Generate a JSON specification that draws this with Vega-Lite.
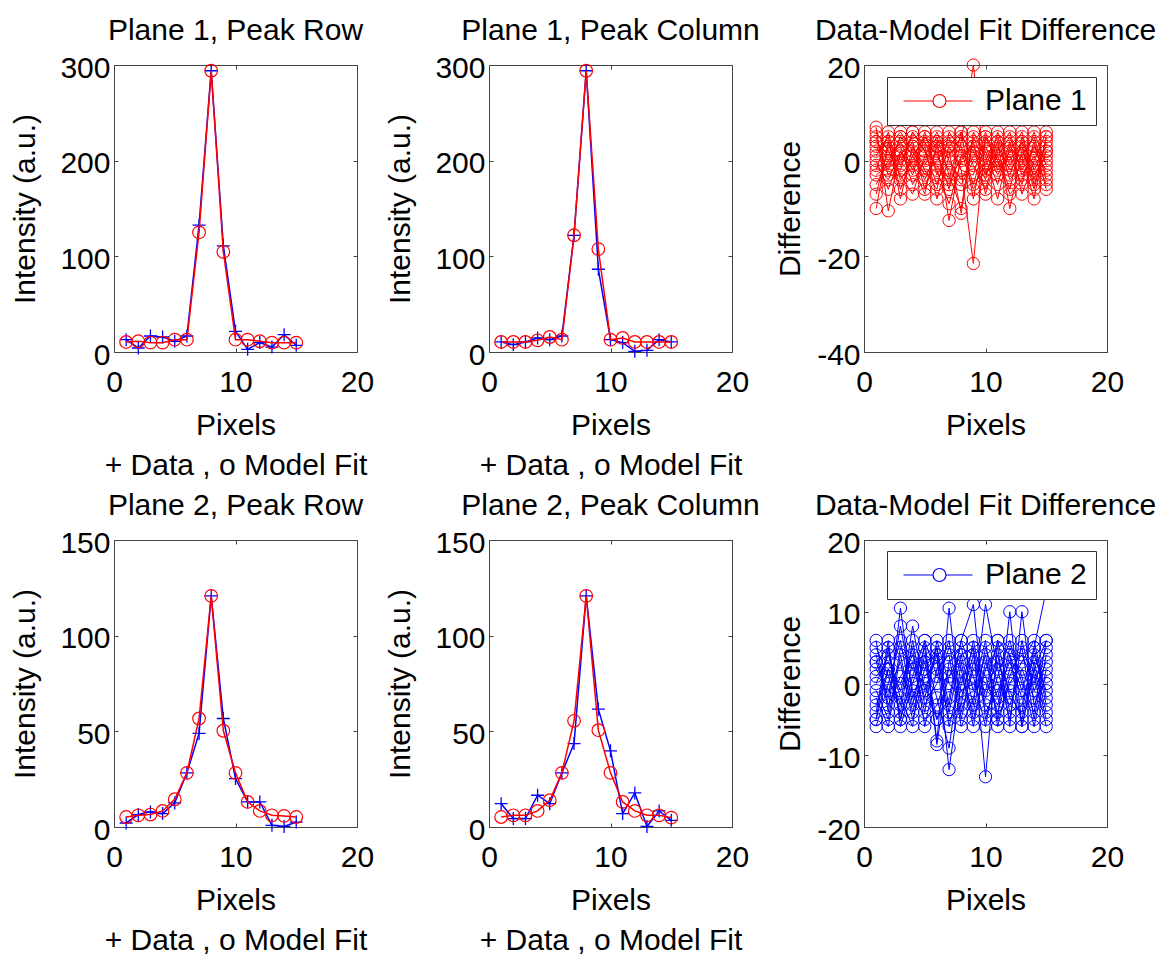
{
  "$schema": "https://vega.github.io/schema/vega-lite/v6.json",
  "padding": {"left": 9, "top": 15, "right": 0, "bottom": 0},
  "background": "white",
  "config": {
    "font": "Liberation Sans",
    "view": {"stroke": "#444", "strokeWidth": 1},
    "axis": {"labelFontSize": 30, "labelColor": "black", "titleFontSize": 30, "titleFontWeight": "normal", "titleColor": "black", "grid": false, "domain": false, "tickSize": -4, "tickColor": "#444", "labelFlush": false, "labelOverlap": false, "labelExpr": "'' + datum.value"},
    "title": {"fontSize": 30, "fontWeight": "normal", "color": "black", "baseline": "alphabetic", "offset": 7, "anchor": "middle"}
  },
  "datasets": {
    "p1": [
      {"x":1,"d":12.9,"m":10.5},{"x":2,"d":4.2,"m":11.2},{"x":3,"d":16.7,"m":9.8},{"x":4,"d":15.7,"m":9.8},{"x":5,"d":11.2,"m":12.9},{"x":6,"d":16.7,"m":12.9},{"x":7,"d":132.6,"m":125},{"x":8,"d":294,"m":294},{"x":9,"d":111,"m":104.7},{"x":10,"d":21.6,"m":12.9},{"x":11,"d":2.8,"m":12.9},{"x":12,"d":9.8,"m":11.2},{"x":13,"d":5.2,"m":9.8},{"x":14,"d":18.1,"m":9.8},{"x":15,"d":7,"m":9.8}
    ],
    "p2": [
      {"x":1,"d":10.5,"m":10.5},{"x":2,"d":7.7,"m":10.5},{"x":3,"d":10.5,"m":10.5},{"x":4,"d":14.7,"m":12.2},{"x":5,"d":12.9,"m":15.7},{"x":6,"d":16.7,"m":12.9},{"x":7,"d":122,"m":122},{"x":8,"d":294,"m":294},{"x":9,"d":86.5,"m":107.5},{"x":10,"d":12.9,"m":12.9},{"x":11,"d":9.8,"m":14.7},{"x":12,"d":0.7,"m":10.5},{"x":13,"d":1.7,"m":10.5},{"x":14,"d":12.9,"m":10.5},{"x":15,"d":10.5,"m":10.5}
    ],
    "p4": [
      {"x":1,"d":2.1,"m":5.2},{"x":2,"d":6.5,"m":6.1},{"x":3,"d":7.9,"m":6.5},{"x":4,"d":7.0,"m":8.4},{"x":5,"d":12.6,"m":14.5},{"x":6,"d":28.3,"m":28.3},{"x":7,"d":48.9,"m":56.7},{"x":8,"d":120.8,"m":120.8},{"x":9,"d":56.7,"m":50.3},{"x":10,"d":25.3,"m":28.3},{"x":11,"d":13.1,"m":13.1},{"x":12,"d":13.1,"m":8.4},{"x":13,"d":0.9,"m":6.1},{"x":14,"d":0.3,"m":5.8},{"x":15,"d":2.6,"m":5.2}
    ],
    "p5": [
      {"x":1,"d":12.2,"m":5.2},{"x":2,"d":4.4,"m":6.1},{"x":3,"d":4.4,"m":6.1},{"x":4,"d":16.6,"m":8.4},{"x":5,"d":12.2,"m":14},{"x":6,"d":28.3,"m":28.3},{"x":7,"d":43.6,"m":55.5},{"x":8,"d":120.8,"m":120.8},{"x":9,"d":61.6,"m":50.6},{"x":10,"d":39.8,"m":28.3},{"x":11,"d":7,"m":13.1},{"x":12,"d":17.8,"m":8.4},{"x":13,"d":0.3,"m":6.1},{"x":14,"d":8.4,"m":6.1},{"x":15,"d":3.5,"m":4.9}
    ],
    "d1": [
      {"s":1,"x":1,"v":3},{"s":1,"x":2,"v":-2},{"s":1,"x":3,"v":5},{"s":1,"x":4,"v":1},{"s":1,"x":5,"v":-4},{"s":1,"x":6,"v":2},{"s":1,"x":7,"v":-6},{"s":1,"x":8,"v":4},{"s":1,"x":9,"v":20},{"s":1,"x":10,"v":-3},{"s":1,"x":11,"v":1},{"s":1,"x":12,"v":5},{"s":1,"x":13,"v":-2},{"s":1,"x":14,"v":3},{"s":1,"x":15,"v":0},
      {"s":2,"x":1,"v":-10},{"s":2,"x":2,"v":4},{"s":2,"x":3,"v":-1},{"s":2,"x":4,"v":6},{"s":2,"x":5,"v":2},{"s":2,"x":6,"v":-5},{"s":2,"x":7,"v":3},{"s":2,"x":8,"v":-2},{"s":2,"x":9,"v":-21.5},{"s":2,"x":10,"v":5},{"s":2,"x":11,"v":0},{"s":2,"x":12,"v":-3},{"s":2,"x":13,"v":4},{"s":2,"x":14,"v":-1},{"s":2,"x":15,"v":2},
      {"s":3,"x":1,"v":7},{"s":3,"x":2,"v":-10.5},{"s":3,"x":3,"v":2},{"s":3,"x":4,"v":-3},{"s":3,"x":5,"v":5},{"s":3,"x":6,"v":1},{"s":3,"x":7,"v":-4},{"s":3,"x":8,"v":6},{"s":3,"x":9,"v":-1},{"s":3,"x":10,"v":-6},{"s":3,"x":11,"v":3},{"s":3,"x":12,"v":-2},{"s":3,"x":13,"v":1},{"s":3,"x":14,"v":5},{"s":3,"x":15,"v":-4},
      {"s":4,"x":1,"v":1},{"s":4,"x":2,"v":5},{"s":4,"x":3,"v":-8},{"s":4,"x":4,"v":3},{"s":4,"x":5,"v":-1},{"s":4,"x":6,"v":4},{"s":4,"x":7,"v":-12.5},{"s":4,"x":8,"v":1},{"s":4,"x":9,"v":3},{"s":4,"x":10,"v":2},{"s":4,"x":11,"v":-5},{"s":4,"x":12,"v":4},{"s":4,"x":13,"v":-7},{"s":4,"x":14,"v":0},{"s":4,"x":15,"v":6},
      {"s":5,"x":1,"v":-5},{"s":5,"x":2,"v":0},{"s":5,"x":3,"v":4},{"s":5,"x":4,"v":-2},{"s":5,"x":5,"v":6},{"s":5,"x":6,"v":-3},{"s":5,"x":7,"v":2},{"s":5,"x":8,"v":-11},{"s":5,"x":9,"v":5},{"s":5,"x":10,"v":-1},{"s":5,"x":11,"v":4},{"s":5,"x":12,"v":-10},{"s":5,"x":13,"v":2},{"s":5,"x":14,"v":-3},{"s":5,"x":15,"v":1},
      {"s":6,"x":1,"v":5},{"s":6,"x":2,"v":-3},{"s":6,"x":3,"v":0},{"s":6,"x":4,"v":4},{"s":6,"x":5,"v":-6},{"s":6,"x":6,"v":3},{"s":6,"x":7,"v":5},{"s":6,"x":8,"v":-2},{"s":6,"x":9,"v":-3},{"s":6,"x":10,"v":6},{"s":6,"x":11,"v":-2},{"s":6,"x":12,"v":1},{"s":6,"x":13,"v":-5},{"s":6,"x":14,"v":4},{"s":6,"x":15,"v":-6},
      {"s":7,"x":1,"v":-2},{"s":7,"x":2,"v":6},{"s":7,"x":3,"v":-4},{"s":7,"x":4,"v":0},{"s":7,"x":5,"v":3},{"s":7,"x":6,"v":-8},{"s":7,"x":7,"v":1},{"s":7,"x":8,"v":5},{"s":7,"x":9,"v":2},{"s":7,"x":10,"v":-4},{"s":7,"x":11,"v":6},{"s":7,"x":12,"v":-1},{"s":7,"x":13,"v":3},{"s":7,"x":14,"v":-6},{"s":7,"x":15,"v":5},
      {"s":8,"x":1,"v":4},{"s":8,"x":2,"v":1},{"s":8,"x":3,"v":3},{"s":8,"x":4,"v":-5},{"s":8,"x":5,"v":0},{"s":8,"x":6,"v":5},{"s":8,"x":7,"v":-3},{"s":8,"x":8,"v":-10},{"s":8,"x":9,"v":6},{"s":8,"x":10,"v":1},{"s":8,"x":11,"v":-8},{"s":8,"x":12,"v":3},{"s":8,"x":13,"v":0},{"s":8,"x":14,"v":2},{"s":8,"x":15,"v":-2},
      {"s":9,"x":1,"v":-7},{"s":9,"x":2,"v":3},{"s":9,"x":3,"v":6},{"s":9,"x":4,"v":2},{"s":9,"x":5,"v":-3},{"s":9,"x":6,"v":0},{"s":9,"x":7,"v":4},{"s":9,"x":8,"v":3},{"s":9,"x":9,"v":-5},{"s":9,"x":10,"v":4},{"s":9,"x":11,"v":1},{"s":9,"x":12,"v":-6},{"s":9,"x":13,"v":5},{"s":9,"x":14,"v":-2},{"s":9,"x":15,"v":3},
      {"s":10,"x":1,"v":0},{"s":10,"x":2,"v":-6},{"s":10,"x":3,"v":1},{"s":10,"x":4,"v":5},{"s":10,"x":5,"v":4},{"s":10,"x":6,"v":-2},{"s":10,"x":7,"v":-9},{"s":10,"x":8,"v":0},{"s":10,"x":9,"v":4},{"s":10,"x":10,"v":-7},{"s":10,"x":11,"v":2},{"s":10,"x":12,"v":6},{"s":10,"x":13,"v":-3},{"s":10,"x":14,"v":1},{"s":10,"x":15,"v":-5},
      {"s":11,"x":1,"v":6},{"s":11,"x":2,"v":2},{"s":11,"x":3,"v":-3},{"s":11,"x":4,"v":-7},{"s":11,"x":5,"v":1},{"s":11,"x":6,"v":6},{"s":11,"x":7,"v":0},{"s":11,"x":8,"v":-4},{"s":11,"x":9,"v":1},{"s":11,"x":10,"v":3},{"s":11,"x":11,"v":-3},{"s":11,"x":12,"v":2},{"s":11,"x":13,"v":6},{"s":11,"x":14,"v":-4},{"s":11,"x":15,"v":4},
      {"s":12,"x":1,"v":-3},{"s":12,"x":2,"v":-1},{"s":12,"x":3,"v":5},{"s":12,"x":4,"v":3},{"s":12,"x":5,"v":-2},{"s":12,"x":6,"v":-6},{"s":12,"x":7,"v":6},{"s":12,"x":8,"v":2},{"s":12,"x":9,"v":-6},{"s":12,"x":10,"v":0},{"s":12,"x":11,"v":5},{"s":12,"x":12,"v":-4},{"s":12,"x":13,"v":-1},{"s":12,"x":14,"v":6},{"s":12,"x":15,"v":-1},
      {"s":13,"x":1,"v":2},{"s":13,"x":2,"v":4},{"s":13,"x":3,"v":-6},{"s":13,"x":4,"v":1},{"s":13,"x":5,"v":5},{"s":13,"x":6,"v":3},{"s":13,"x":7,"v":-2},{"s":13,"x":8,"v":-5},{"s":13,"x":9,"v":0},{"s":13,"x":10,"v":-2},{"s":13,"x":11,"v":-1},{"s":13,"x":12,"v":0},{"s":13,"x":13,"v":4},{"s":13,"x":14,"v":-5},{"s":13,"x":15,"v":2},
      {"s":14,"x":1,"v":-1},{"s":14,"x":2,"v":-4},{"s":14,"x":3,"v":2},{"s":14,"x":4,"v":-1},{"s":14,"x":5,"v":-7},{"s":14,"x":6,"v":4},{"s":14,"x":7,"v":3},{"s":14,"x":8,"v":6},{"s":14,"x":9,"v":-8},{"s":14,"x":10,"v":5},{"s":14,"x":11,"v":0},{"s":14,"x":12,"v":-7},{"s":14,"x":13,"v":-4},{"s":14,"x":14,"v":3},{"s":14,"x":15,"v":-3},
      {"s":15,"x":1,"v":4},{"s":15,"x":2,"v":0},{"s":15,"x":3,"v":-2},{"s":15,"x":4,"v":6},{"s":15,"x":5,"v":2},{"s":15,"x":6,"v":-1},{"s":15,"x":7,"v":-5},{"s":15,"x":8,"v":1},{"s":15,"x":9,"v":3},{"s":15,"x":10,"v":-3},{"s":15,"x":11,"v":4},{"s":15,"x":12,"v":2},{"s":15,"x":13,"v":1},{"s":15,"x":14,"v":-8},{"s":15,"x":15,"v":5}
    ],
    "d2": [
      {"s":1,"x":1,"v":6},{"s":1,"x":2,"v":-4},{"s":1,"x":3,"v":10.5},{"s":1,"x":4,"v":-2},{"s":1,"x":5,"v":3},{"s":1,"x":6,"v":-5},{"s":1,"x":7,"v":1},{"s":1,"x":8,"v":4},{"s":1,"x":9,"v":-3},{"s":1,"x":10,"v":11},{"s":1,"x":11,"v":2},{"s":1,"x":12,"v":-5},{"s":1,"x":13,"v":6},{"s":1,"x":14,"v":-1},{"s":1,"x":15,"v":3},
      {"s":2,"x":1,"v":-5},{"s":2,"x":2,"v":2},{"s":2,"x":3,"v":-3},{"s":2,"x":4,"v":8},{"s":2,"x":5,"v":-1},{"s":2,"x":6,"v":4},{"s":2,"x":7,"v":-12},{"s":2,"x":8,"v":0},{"s":2,"x":9,"v":5},{"s":2,"x":10,"v":-13},{"s":2,"x":11,"v":6},{"s":2,"x":12,"v":-2},{"s":2,"x":13,"v":-4},{"s":2,"x":14,"v":5},{"s":2,"x":15,"v":13},
      {"s":3,"x":1,"v":3},{"s":3,"x":2,"v":5},{"s":3,"x":3,"v":-5},{"s":3,"x":4,"v":1},{"s":3,"x":5,"v":6},{"s":3,"x":6,"v":-8},{"s":3,"x":7,"v":10.5},{"s":3,"x":8,"v":-4},{"s":3,"x":9,"v":2},{"s":3,"x":10,"v":0},{"s":3,"x":11,"v":-3},{"s":3,"x":12,"v":4},{"s":3,"x":13,"v":-6},{"s":3,"x":14,"v":2},{"s":3,"x":15,"v":-5},
      {"s":4,"x":1,"v":-2},{"s":4,"x":2,"v":-6},{"s":4,"x":3,"v":4},{"s":4,"x":4,"v":-4},{"s":4,"x":5,"v":2},{"s":4,"x":6,"v":5},{"s":4,"x":7,"v":-3},{"s":4,"x":8,"v":6},{"s":4,"x":9,"v":11},{"s":4,"x":10,"v":-5},{"s":4,"x":11,"v":1},{"s":4,"x":12,"v":6},{"s":4,"x":13,"v":0},{"s":4,"x":14,"v":-4},{"s":4,"x":15,"v":6},
      {"s":5,"x":1,"v":1},{"s":5,"x":2,"v":3},{"s":5,"x":3,"v":-1},{"s":5,"x":4,"v":5},{"s":5,"x":5,"v":-6},{"s":5,"x":6,"v":2},{"s":5,"x":7,"v":4},{"s":5,"x":8,"v":-6},{"s":5,"x":9,"v":-2},{"s":5,"x":10,"v":4},{"s":5,"x":11,"v":-5},{"s":5,"x":12,"v":0},{"s":5,"x":13,"v":3},{"s":5,"x":14,"v":6},{"s":5,"x":15,"v":-2},
      {"s":6,"x":1,"v":-6},{"s":6,"x":2,"v":0},{"s":6,"x":3,"v":6},{"s":6,"x":4,"v":-3},{"s":6,"x":5,"v":4},{"s":6,"x":6,"v":-2},{"s":6,"x":7,"v":-9},{"s":6,"x":8,"v":3},{"s":6,"x":9,"v":-5},{"s":6,"x":10,"v":2},{"s":6,"x":11,"v":5},{"s":6,"x":12,"v":-6},{"s":6,"x":13,"v":10},{"s":6,"x":14,"v":-3},{"s":6,"x":15,"v":1},
      {"s":7,"x":1,"v":4},{"s":7,"x":2,"v":-3},{"s":7,"x":3,"v":1},{"s":7,"x":4,"v":3},{"s":7,"x":5,"v":-4},{"s":7,"x":6,"v":6},{"s":7,"x":7,"v":0},{"s":7,"x":8,"v":-2},{"s":7,"x":9,"v":4},{"s":7,"x":10,"v":-4},{"s":7,"x":11,"v":-1},{"s":7,"x":12,"v":3},{"s":7,"x":13,"v":-2},{"s":7,"x":14,"v":1},{"s":7,"x":15,"v":-6},
      {"s":8,"x":1,"v":-4},{"s":8,"x":2,"v":6},{"s":8,"x":3,"v":-6},{"s":8,"x":4,"v":0},{"s":8,"x":5,"v":5},{"s":8,"x":6,"v":-8.5},{"s":8,"x":7,"v":3},{"s":8,"x":8,"v":5},{"s":8,"x":9,"v":-1},{"s":8,"x":10,"v":6},{"s":8,"x":11,"v":-6},{"s":8,"x":12,"v":1},{"s":8,"x":13,"v":5},{"s":8,"x":14,"v":-5},{"s":8,"x":15,"v":4},
      {"s":9,"x":1,"v":2},{"s":9,"x":2,"v":-1},{"s":9,"x":3,"v":3},{"s":9,"x":4,"v":-5},{"s":9,"x":5,"v":1},{"s":9,"x":6,"v":3},{"s":9,"x":7,"v":-5},{"s":9,"x":8,"v":-3},{"s":9,"x":9,"v":6},{"s":9,"x":10,"v":-2},{"s":9,"x":11,"v":4},{"s":9,"x":12,"v":-4},{"s":9,"x":13,"v":-3},{"s":9,"x":14,"v":4},{"s":9,"x":15,"v":-1},
      {"s":10,"x":1,"v":5},{"s":10,"x":2,"v":1},{"s":10,"x":3,"v":-4},{"s":10,"x":4,"v":6},{"s":10,"x":5,"v":-3},{"s":10,"x":6,"v":0},{"s":10,"x":7,"v":5},{"s":10,"x":8,"v":2},{"s":10,"x":9,"v":-6},{"s":10,"x":10,"v":3},{"s":10,"x":11,"v":-2},{"s":10,"x":12,"v":5},{"s":10,"x":13,"v":1},{"s":10,"x":14,"v":-6},{"s":10,"x":15,"v":2},
      {"s":11,"x":1,"v":-1},{"s":11,"x":2,"v":-5},{"s":11,"x":3,"v":5},{"s":11,"x":4,"v":2},{"s":11,"x":5,"v":0},{"s":11,"x":6,"v":-5},{"s":11,"x":7,"v":-2},{"s":11,"x":8,"v":6},{"s":11,"x":9,"v":1},{"s":11,"x":10,"v":-6},{"s":11,"x":11,"v":3},{"s":11,"x":12,"v":-1},{"s":11,"x":13,"v":-5},{"s":11,"x":14,"v":3},{"s":11,"x":15,"v":-4},
      {"s":12,"x":1,"v":0},{"s":12,"x":2,"v":4},{"s":12,"x":3,"v":-2},{"s":12,"x":4,"v":-6},{"s":12,"x":5,"v":6},{"s":12,"x":6,"v":1},{"s":12,"x":7,"v":6},{"s":12,"x":8,"v":-5},{"s":12,"x":9,"v":3},{"s":12,"x":10,"v":1},{"s":12,"x":11,"v":-4},{"s":12,"x":12,"v":2},{"s":12,"x":13,"v":4},{"s":12,"x":14,"v":0},{"s":12,"x":15,"v":5},
      {"s":13,"x":1,"v":-3},{"s":13,"x":2,"v":2},{"s":13,"x":3,"v":0},{"s":13,"x":4,"v":4},{"s":13,"x":5,"v":-2},{"s":13,"x":6,"v":5},{"s":13,"x":7,"v":-6},{"s":13,"x":8,"v":1},{"s":13,"x":9,"v":-4},{"s":13,"x":10,"v":5},{"s":13,"x":11,"v":0},{"s":13,"x":12,"v":-3},{"s":13,"x":13,"v":2},{"s":13,"x":14,"v":-2},{"s":13,"x":15,"v":0},
      {"s":14,"x":1,"v":3},{"s":14,"x":2,"v":-2},{"s":14,"x":3,"v":8},{"s":14,"x":4,"v":-1},{"s":14,"x":5,"v":-5},{"s":14,"x":6,"v":-3},{"s":14,"x":7,"v":2},{"s":14,"x":8,"v":-1},{"s":14,"x":9,"v":0},{"s":14,"x":10,"v":-1},{"s":14,"x":11,"v":6},{"s":14,"x":12,"v":4},{"s":14,"x":13,"v":-1},{"s":14,"x":14,"v":5},{"s":14,"x":15,"v":-3},
      {"s":15,"x":1,"v":-5},{"s":15,"x":2,"v":5},{"s":15,"x":3,"v":-5},{"s":15,"x":4,"v":3},{"s":15,"x":5,"v":3},{"s":15,"x":6,"v":4},{"s":15,"x":7,"v":-4},{"s":15,"x":8,"v":4},{"s":15,"x":9,"v":5},{"s":15,"x":10,"v":-3},{"s":15,"x":11,"v":-5},{"s":15,"x":12,"v":10},{"s":15,"x":13,"v":-6},{"s":15,"x":14,"v":2},{"s":15,"x":15,"v":6}
    ]
  },
  "columns": 3,
  "spacing": {"row": 188, "column": 132},
  "bounds": "flush",
  "resolve": {"scale": {"x": "independent", "y": "independent", "color": "independent"}, "legend": {"color": "independent"}},
  "concat": [
    {
      "width": 243, "height": 287,
      "title": {"text": "Plane 1, Peak Row"},
      "data": {"name": "p1"},
      "resolve": {"axis": {"x": "independent", "y": "independent"}},
      "layer": [
        {"mark": {"type": "line", "color": "#0000ff", "strokeWidth": 1.5, "point": {"shape": "M-1,0H1M0,-1V1", "filled": false, "size": 169, "strokeWidth": 1.3, "color": "#0000ff"}},
         "encoding": {
           "x": {"field": "x", "type": "quantitative", "scale": {"domain": [0, 20], "nice": false}, "axis": {"orient": "bottom", "values": [0, 10, 20], "labelPadding": 19, "title": ["Pixels", "+ Data , o Model Fit"], "titleLineHeight": 40, "titleY": 82, "titleBaseline": "alphabetic"}},
           "y": {"field": "d", "type": "quantitative", "scale": {"domain": [0, 300], "nice": false}, "axis": {"orient": "left", "values": [0, 100, 200, 300], "labelPadding": 8, "labelOffset": 3, "title": "Intensity (a.u.)", "titleX": -80, "titleY": 143.5, "titleBaseline": "alphabetic"}}
         }},
        {"mark": {"type": "line", "color": "#ff0000", "strokeWidth": 1.5, "point": {"shape": "circle", "filled": false, "size": 160, "strokeWidth": 1.2, "color": "#ff0000"}},
         "encoding": {
           "x": {"field": "x", "type": "quantitative", "scale": {"domain": [0, 20], "nice": false}, "axis": null},
           "y": {"field": "m", "type": "quantitative", "scale": {"domain": [0, 300], "nice": false}, "axis": null}
         }},
        {"mark": {"type": "point", "opacity": 0},
         "encoding": {
           "x": {"field": "x", "type": "quantitative", "scale": {"domain": [0, 20], "nice": false}, "axis": {"orient": "top", "values": [0, 10, 20], "labels": false, "title": null}},
           "y": {"field": "m", "type": "quantitative", "scale": {"domain": [0, 300], "nice": false}, "axis": {"orient": "right", "values": [0, 100, 200, 300], "labels": false, "title": null}}
         }}
      ]
    },
    {
      "width": 243, "height": 287,
      "title": {"text": "Plane 1, Peak Column"},
      "data": {"name": "p2"},
      "resolve": {"axis": {"x": "independent", "y": "independent"}},
      "layer": [
        {"mark": {"type": "line", "color": "#0000ff", "strokeWidth": 1.5, "point": {"shape": "M-1,0H1M0,-1V1", "filled": false, "size": 169, "strokeWidth": 1.3, "color": "#0000ff"}},
         "encoding": {
           "x": {"field": "x", "type": "quantitative", "scale": {"domain": [0, 20], "nice": false}, "axis": {"orient": "bottom", "values": [0, 10, 20], "labelPadding": 19, "title": ["Pixels", "+ Data , o Model Fit"], "titleLineHeight": 40, "titleY": 82, "titleBaseline": "alphabetic"}},
           "y": {"field": "d", "type": "quantitative", "scale": {"domain": [0, 300], "nice": false}, "axis": {"orient": "left", "values": [0, 100, 200, 300], "labelPadding": 8, "labelOffset": 3, "title": "Intensity (a.u.)", "titleX": -80, "titleY": 143.5, "titleBaseline": "alphabetic"}}
         }},
        {"mark": {"type": "line", "color": "#ff0000", "strokeWidth": 1.5, "point": {"shape": "circle", "filled": false, "size": 160, "strokeWidth": 1.2, "color": "#ff0000"}},
         "encoding": {
           "x": {"field": "x", "type": "quantitative", "scale": {"domain": [0, 20], "nice": false}, "axis": null},
           "y": {"field": "m", "type": "quantitative", "scale": {"domain": [0, 300], "nice": false}, "axis": null}
         }},
        {"mark": {"type": "point", "opacity": 0},
         "encoding": {
           "x": {"field": "x", "type": "quantitative", "scale": {"domain": [0, 20], "nice": false}, "axis": {"orient": "top", "values": [0, 10, 20], "labels": false, "title": null}},
           "y": {"field": "m", "type": "quantitative", "scale": {"domain": [0, 300], "nice": false}, "axis": {"orient": "right", "values": [0, 100, 200, 300], "labels": false, "title": null}}
         }}
      ]
    },
    {
      "width": 243, "height": 287,
      "title": {"text": "Data-Model Fit Difference"},
      "data": {"name": "d1"},
      "resolve": {"axis": {"x": "independent", "y": "independent"}},
      "layer": [
        {"mark": {"type": "line", "strokeWidth": 1, "point": {"shape": "circle", "filled": false, "size": 150, "strokeWidth": 1}},
         "encoding": {
           "x": {"field": "x", "type": "quantitative", "scale": {"domain": [0, 20], "nice": false}, "axis": {"orient": "bottom", "values": [0, 10, 20], "labelPadding": 19, "title": "Pixels", "titleY": 82, "titleBaseline": "alphabetic"}},
           "y": {"field": "v", "type": "quantitative", "scale": {"domain": [-40, 20], "nice": false}, "axis": {"orient": "left", "values": [-40, -20, 0, 20], "labelPadding": 8, "labelOffset": 3, "title": "Difference", "titleX": -65, "titleY": 143.5, "titleBaseline": "alphabetic"}},
           "detail": {"field": "s"},
           "color": {"datum": "Plane 1", "scale": {"range": ["#ff0000"]}, "legend": {"orient": "none", "legendX": 23, "legendY": 12, "title": null, "strokeColor": "#333", "fillColor": "white", "padding": 9, "labelFontSize": 30, "labelColor": "black", "labelOffset": 59, "symbolType": "M-0.6,0H1.76M2.8,0H4.92M2.8,0A0.52,0.52,0,1,1,1.76,0A0.52,0.52,0,1,1,2.8,0", "symbolSize": 625, "symbolStrokeWidth": 1.2, "symbolFillColor": "transparent"}}
         }},
        {"mark": {"type": "point", "opacity": 0},
         "encoding": {
           "x": {"field": "x", "type": "quantitative", "scale": {"domain": [0, 20], "nice": false}, "axis": {"orient": "top", "values": [0, 10, 20], "labels": false, "title": null}},
           "y": {"field": "v", "type": "quantitative", "scale": {"domain": [-40, 20], "nice": false}, "axis": {"orient": "right", "values": [-40, -20, 0, 20], "labels": false, "title": null}}
         }}
      ]
    },
    {
      "width": 243, "height": 287,
      "title": {"text": "Plane 2, Peak Row"},
      "data": {"name": "p4"},
      "resolve": {"axis": {"x": "independent", "y": "independent"}},
      "layer": [
        {"mark": {"type": "line", "color": "#0000ff", "strokeWidth": 1.5, "point": {"shape": "M-1,0H1M0,-1V1", "filled": false, "size": 169, "strokeWidth": 1.3, "color": "#0000ff"}},
         "encoding": {
           "x": {"field": "x", "type": "quantitative", "scale": {"domain": [0, 20], "nice": false}, "axis": {"orient": "bottom", "values": [0, 10, 20], "labelPadding": 19, "title": ["Pixels", "+ Data , o Model Fit"], "titleLineHeight": 40, "titleY": 82, "titleBaseline": "alphabetic"}},
           "y": {"field": "d", "type": "quantitative", "scale": {"domain": [0, 150], "nice": false}, "axis": {"orient": "left", "values": [0, 50, 100, 150], "labelPadding": 8, "labelOffset": 3, "title": "Intensity (a.u.)", "titleX": -80, "titleY": 143.5, "titleBaseline": "alphabetic"}}
         }},
        {"mark": {"type": "line", "color": "#ff0000", "strokeWidth": 1.5, "point": {"shape": "circle", "filled": false, "size": 160, "strokeWidth": 1.2, "color": "#ff0000"}},
         "encoding": {
           "x": {"field": "x", "type": "quantitative", "scale": {"domain": [0, 20], "nice": false}, "axis": null},
           "y": {"field": "m", "type": "quantitative", "scale": {"domain": [0, 150], "nice": false}, "axis": null}
         }},
        {"mark": {"type": "point", "opacity": 0},
         "encoding": {
           "x": {"field": "x", "type": "quantitative", "scale": {"domain": [0, 20], "nice": false}, "axis": {"orient": "top", "values": [0, 10, 20], "labels": false, "title": null}},
           "y": {"field": "m", "type": "quantitative", "scale": {"domain": [0, 150], "nice": false}, "axis": {"orient": "right", "values": [0, 50, 100, 150], "labels": false, "title": null}}
         }}
      ]
    },
    {
      "width": 243, "height": 287,
      "title": {"text": "Plane 2, Peak Column"},
      "data": {"name": "p5"},
      "resolve": {"axis": {"x": "independent", "y": "independent"}},
      "layer": [
        {"mark": {"type": "line", "color": "#0000ff", "strokeWidth": 1.5, "point": {"shape": "M-1,0H1M0,-1V1", "filled": false, "size": 169, "strokeWidth": 1.3, "color": "#0000ff"}},
         "encoding": {
           "x": {"field": "x", "type": "quantitative", "scale": {"domain": [0, 20], "nice": false}, "axis": {"orient": "bottom", "values": [0, 10, 20], "labelPadding": 19, "title": ["Pixels", "+ Data , o Model Fit"], "titleLineHeight": 40, "titleY": 82, "titleBaseline": "alphabetic"}},
           "y": {"field": "d", "type": "quantitative", "scale": {"domain": [0, 150], "nice": false}, "axis": {"orient": "left", "values": [0, 50, 100, 150], "labelPadding": 8, "labelOffset": 3, "title": "Intensity (a.u.)", "titleX": -80, "titleY": 143.5, "titleBaseline": "alphabetic"}}
         }},
        {"mark": {"type": "line", "color": "#ff0000", "strokeWidth": 1.5, "point": {"shape": "circle", "filled": false, "size": 160, "strokeWidth": 1.2, "color": "#ff0000"}},
         "encoding": {
           "x": {"field": "x", "type": "quantitative", "scale": {"domain": [0, 20], "nice": false}, "axis": null},
           "y": {"field": "m", "type": "quantitative", "scale": {"domain": [0, 150], "nice": false}, "axis": null}
         }},
        {"mark": {"type": "point", "opacity": 0},
         "encoding": {
           "x": {"field": "x", "type": "quantitative", "scale": {"domain": [0, 20], "nice": false}, "axis": {"orient": "top", "values": [0, 10, 20], "labels": false, "title": null}},
           "y": {"field": "m", "type": "quantitative", "scale": {"domain": [0, 150], "nice": false}, "axis": {"orient": "right", "values": [0, 50, 100, 150], "labels": false, "title": null}}
         }}
      ]
    },
    {
      "width": 243, "height": 287,
      "title": {"text": "Data-Model Fit Difference"},
      "data": {"name": "d2"},
      "resolve": {"axis": {"x": "independent", "y": "independent"}},
      "layer": [
        {"mark": {"type": "line", "strokeWidth": 1, "point": {"shape": "circle", "filled": false, "size": 150, "strokeWidth": 1}},
         "encoding": {
           "x": {"field": "x", "type": "quantitative", "scale": {"domain": [0, 20], "nice": false}, "axis": {"orient": "bottom", "values": [0, 10, 20], "labelPadding": 19, "title": "Pixels", "titleY": 82, "titleBaseline": "alphabetic"}},
           "y": {"field": "v", "type": "quantitative", "scale": {"domain": [-20, 20], "nice": false}, "axis": {"orient": "left", "values": [-20, -10, 0, 10, 20], "labelPadding": 8, "labelOffset": 3, "title": "Difference", "titleX": -65, "titleY": 143.5, "titleBaseline": "alphabetic"}},
           "detail": {"field": "s"},
           "color": {"datum": "Plane 2", "scale": {"range": ["#0000ff"]}, "legend": {"orient": "none", "legendX": 23, "legendY": 11, "title": null, "strokeColor": "#333", "fillColor": "white", "padding": 9, "labelFontSize": 30, "labelColor": "black", "labelOffset": 59, "symbolType": "M-0.6,0H1.76M2.8,0H4.92M2.8,0A0.52,0.52,0,1,1,1.76,0A0.52,0.52,0,1,1,2.8,0", "symbolSize": 625, "symbolStrokeWidth": 1.2, "symbolFillColor": "transparent"}}
         }},
        {"mark": {"type": "point", "opacity": 0},
         "encoding": {
           "x": {"field": "x", "type": "quantitative", "scale": {"domain": [0, 20], "nice": false}, "axis": {"orient": "top", "values": [0, 10, 20], "labels": false, "title": null}},
           "y": {"field": "v", "type": "quantitative", "scale": {"domain": [-20, 20], "nice": false}, "axis": {"orient": "right", "values": [-20, -10, 0, 10, 20], "labels": false, "title": null}}
         }}
      ]
    }
  ]
}
